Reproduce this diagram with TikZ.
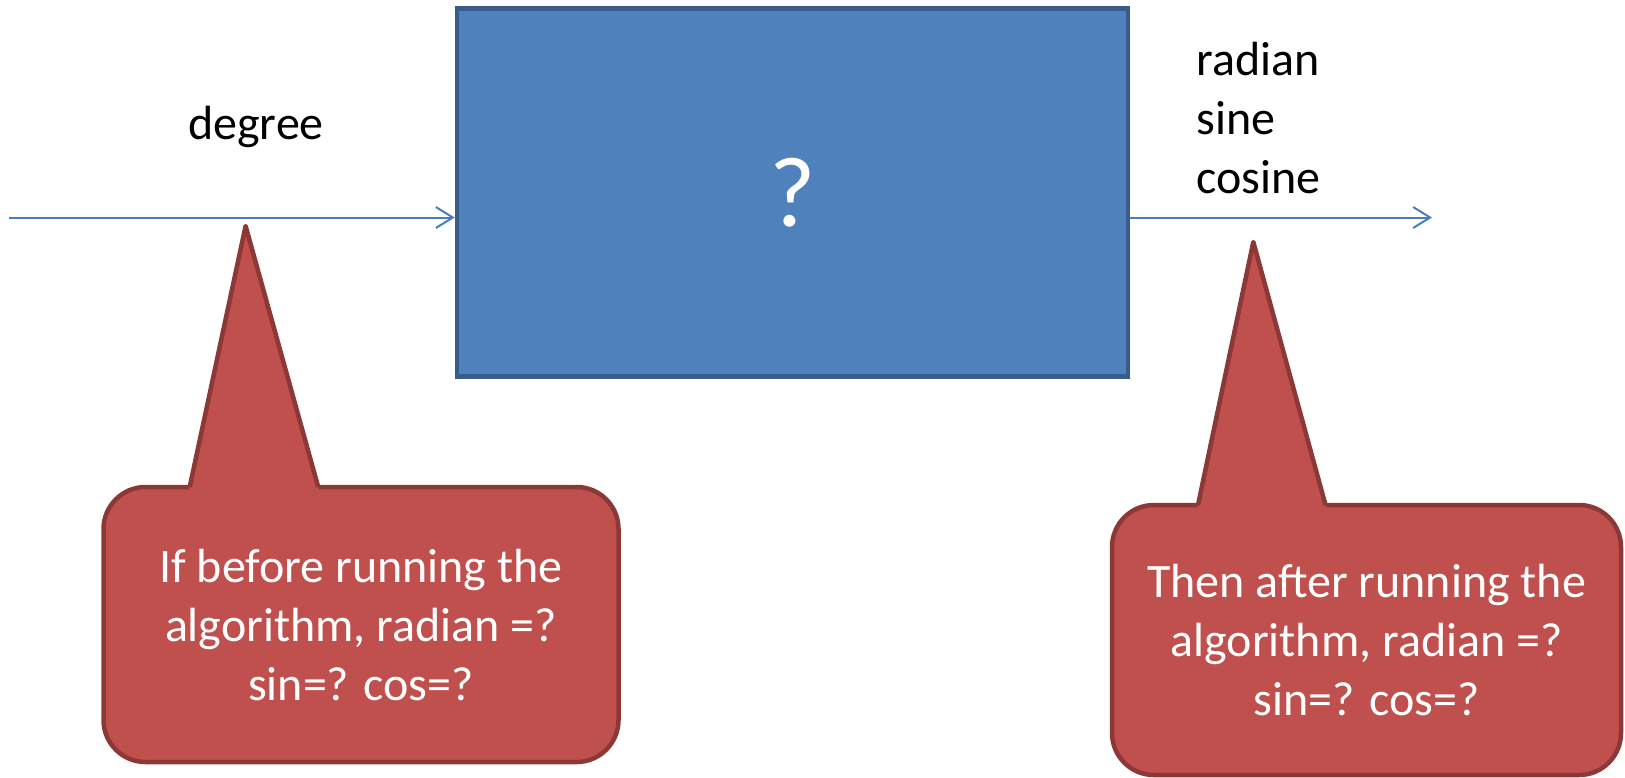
\documentclass[tikz,border=0pt]{standalone}
\usepackage{fontspec}
\setmainfont{Carlito}
\usetikzlibrary{arrows.meta}
\definecolor{boxblue}{HTML}{4F81BD}
\definecolor{boxedge}{HTML}{385D8A}
\definecolor{flowblue}{HTML}{4A7EBB}
\definecolor{notered}{HTML}{C0504D}
\definecolor{noteedge}{HTML}{8C3836}
\begin{document}
\begin{tikzpicture}[x=0.5pt, y=-0.5pt,
    every node/.style={font=\fontsize{24}{29.5}\selectfont},
    flow/.style={line width=1pt, flowblue, -{Straight Barb[length=8.5pt,width=10.5pt]}},
    note/.style={draw=noteedge, line width=2.25pt, fill=notered, rounded corners=21pt, text=white, align=center},
    notetip/.style={draw=noteedge, line width=2.25pt, line join=round}]
    \useasboundingbox (0,0) rectangle (1625,777);
    % the unknown algorithm
    \node[draw=boxedge, line width=2.25pt, fill=boxblue, minimum width=335.5pt, minimum height=184pt,
          text=white, font=\fontsize{50}{55}\selectfont] (algo) at (792.5,192.5) {?};
    \coordinate (in) at (9,217.5);
    \coordinate (out) at (1432,217.5);
    \draw[flow] (in) -- (in -| algo.west);
    \draw[flow] (out -| algo.east) -- (out);
    \node[anchor=base] (deg) at (256,139) {degree};
    \node[anchor=north west, align=left, inner sep=0pt] (res) at (1196,42) {radian\\sine\\cosine};
    % callouts
    \node[note, minimum width=257.5pt, minimum height=137.5pt] (before) at (361,624.5)
        {If before running the\\algorithm, radian =?\\sin=? cos=?};
    \coordinate (btip) at (245.6,226);
    \fill[notered] (btip) -- (188.6,492) -- (319.6,492) -- cycle;
    \draw[notetip] (189.7,487) -- (btip) -- (318.2,487);
    \node[note, minimum width=254.5pt, minimum height=135pt] (after) at (1366.5,640)
        {Then after running the\\algorithm, radian =?\\sin=? cos=?};
    \coordinate (atip) at (1253.3,242);
    \fill[notered] (atip) -- (1196.9,510) -- (1326.9,510) -- cycle;
    \draw[notetip] (1198,505) -- (atip) -- (1325.5,505);
\end{tikzpicture}
\end{document}
